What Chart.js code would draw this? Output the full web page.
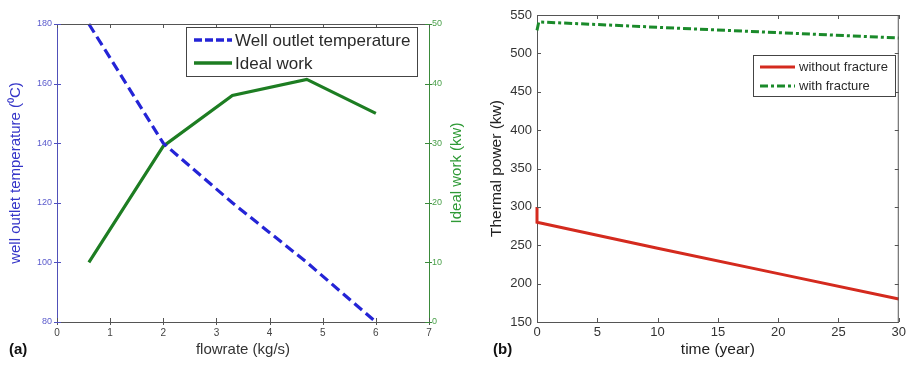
<!DOCTYPE html>
<html>
<head>
<meta charset="utf-8">
<script src="https://cdn.jsdelivr.net/npm/chart.js@4.4.1/dist/chart.umd.min.js"></script>
<style>
  html, body { margin: 0; padding: 0; background: #ffffff; }
  #wrap { position: relative; width: 909px; height: 366px; overflow: hidden; }
  #cA { position: absolute; left: 0; top: 0; }
  #cB { position: absolute; left: 460px; top: 0; }
</style>
</head>
<body>
<div id="wrap">
  <canvas id="cA" width="466" height="366"></canvas>
  <canvas id="cB" width="449" height="366"></canvas>
</div>
<script>
// ---------- (a) data ----------
const flowrate   = [0.6, 2, 3.3, 4.7, 6];
const outletTemp = [180, 140, 120, 100, 80];
const idealWork  = [10, 29.5, 38, 40.7, 35];
const flowTicks  = [0, 1, 2, 3, 4, 5, 6, 7];
const tempTicks  = [80, 100, 120, 140, 160, 180];
const workTicks  = [0, 10, 20, 30, 40, 50];

// ---------- (b) data ----------
const timeNoFrac  = [0, 0, 10, 20, 30];
const powerNoFrac = [300, 280, 246, 213, 180];
const timeFrac    = [0, 0.15, 10, 20, 30];
const powerFrac   = [530, 541, 534, 527, 520];
const timeTicks   = [0, 5, 10, 15, 20, 25, 30];
const powerTicks  = [150, 200, 250, 300, 350, 400, 450, 500, 550];

const FONT = "'Liberation Sans', Arial, Helvetica, sans-serif";
const BLUE = '#2424d6';
const GREEN = '#1d7d22';
const RED = '#d42a1e';
const GREEN2 = '#1a8a2a';

function setTicks(arr) {
  return function (scale) { scale.ticks = arr.map(v => ({ value: v })); };
}
function pts(xs, ys) { return xs.map((x, i) => ({ x: x, y: ys[i] })); }

function line(ctx, x1, y1, x2, y2) {
  ctx.beginPath(); ctx.moveTo(x1, y1); ctx.lineTo(x2, y2); ctx.stroke();
}

// ---------- Chart (a) ----------
const pluginA = {
  id: 'decorA',
  afterDraw(chart) {
    const ctx = chart.ctx, a = chart.chartArea;
    const sx = chart.scales.x, sy = chart.scales.y, sy1 = chart.scales.y1;
    ctx.save();
    ctx.strokeStyle = '#555'; ctx.lineWidth = 1;
    line(ctx, a.left, a.top + 0.5, a.right, a.top + 0.5);
    sx.ticks.forEach(t => {
      const px = Math.round(sx.getPixelForValue(t.value)) + 0.5;
      line(ctx, px, a.bottom - 4, px, a.bottom + 3);
      line(ctx, px, a.top, px, a.top + 4);
    });
    ctx.strokeStyle = '#5050c0';
    sy.ticks.forEach(t => {
      const py = Math.round(sy.getPixelForValue(t.value)) + 0.5;
      line(ctx, a.left - 3, py, a.left + 4, py);
    });
    ctx.strokeStyle = '#3a8a3a';
    sy1.ticks.forEach(t => {
      const py = Math.round(sy1.getPixelForValue(t.value)) + 0.5;
      line(ctx, a.right - 4, py, a.right + 3, py);
    });
    // right axis title (reads bottom to top)
    ctx.save();
    ctx.translate(457, (a.top + a.bottom) / 2);
    ctx.rotate(-Math.PI / 2);
    ctx.fillStyle = '#2f9a36';
    ctx.font = '15px ' + FONT;
    ctx.textAlign = 'center'; ctx.textBaseline = 'middle';
    ctx.fillText('Ideal work (kw)', 0, 0);
    ctx.restore();
    // legend
    ctx.fillStyle = '#ffffff';
    ctx.fillRect(186, 27, 231, 49);
    ctx.strokeStyle = '#444'; ctx.lineWidth = 1;
    ctx.strokeRect(186.5, 27.5, 231, 49);
    ctx.lineWidth = 3.5;
    ctx.strokeStyle = BLUE; ctx.setLineDash([8, 3]);
    line(ctx, 194, 40, 232, 40);
    ctx.setLineDash([]);
    ctx.strokeStyle = GREEN;
    line(ctx, 194, 63, 232, 63);
    ctx.fillStyle = '#2a2a2a';
    ctx.font = '17px ' + FONT;
    ctx.textAlign = 'left'; ctx.textBaseline = 'middle';
    ctx.fillText('Well outlet temperature', 235, 41);
    ctx.fillText('Ideal work', 235, 64);
    ctx.font = 'bold 15px ' + FONT;
    ctx.fillStyle = '#111';
    ctx.fillText('(a)', 9, 350);
    ctx.restore();
  }
};

new Chart(document.getElementById('cA'), {
  type: 'line',
  data: {
    datasets: [
      {
        label: 'Well outlet temperature',
        data: pts(flowrate, outletTemp),
        yAxisID: 'y',
        borderColor: BLUE, borderWidth: 3.2, borderDash: [10, 5],
        pointRadius: 0, tension: 0, fill: false, clip: 3
      },
      {
        label: 'Ideal work',
        data: pts(flowrate, idealWork),
        yAxisID: 'y1',
        borderColor: GREEN, borderWidth: 3.2,
        pointRadius: 0, tension: 0, fill: false, clip: 3
      }
    ]
  },
  options: {
    responsive: false, animation: false, devicePixelRatio: 1,
    layout: { padding: { top: 24, left: 0, right: 0, bottom: 0 }, autoPadding: false },
    plugins: { legend: { display: false }, tooltip: { enabled: false } },
    scales: {
      x: {
        type: 'linear', min: 0, max: 7,
        afterBuildTicks: setTicks(flowTicks),
        afterFit: s => { s.height = 44; },
        grid: { display: false, drawTicks: false },
        border: { display: true, color: '#555', width: 1 },
        ticks: { color: '#444', font: { family: FONT, size: 10 }, padding: 5, maxRotation: 0 },
        title: { display: true, text: 'flowrate (kg/s)', color: '#333', font: { family: FONT, size: 15 }, padding: { top: 0, bottom: 7 } }
      },
      y: {
        type: 'linear', position: 'left', min: 80, max: 180,
        afterBuildTicks: setTicks(tempTicks),
        afterFit: s => { s.width = 57; },
        grid: { display: false, drawTicks: false },
        border: { display: true, color: '#5050b8', width: 1 },
        ticks: { color: '#5a5acc', font: { family: FONT, size: 9 }, padding: 5 },
        title: { display: true, text: 'well outlet temperature (⁰C)', color: '#3535c8', font: { family: FONT, size: 15 }, padding: { top: 7, bottom: 0 } }
      },
      y1: {
        type: 'linear', position: 'right', min: 0, max: 50,
        afterBuildTicks: setTicks(workTicks),
        afterFit: s => { s.width = 37; },
        grid: { display: false, drawTicks: false },
        border: { display: true, color: '#3a8a3a', width: 1 },
        ticks: { color: '#4aa04a', font: { family: FONT, size: 9 }, padding: 3 },
        title: { display: false }
      }
    }
  },
  plugins: [pluginA]
});

// ---------- Chart (b) ----------
const pluginB = {
  id: 'decorB',
  afterDraw(chart) {
    const ctx = chart.ctx, a = chart.chartArea;
    const sx = chart.scales.x, sy = chart.scales.y;
    ctx.save();
    ctx.strokeStyle = '#555'; ctx.lineWidth = 1;
    line(ctx, a.left, a.top + 0.5, a.right, a.top + 0.5);
    line(ctx, a.right - 0.5, a.top, a.right - 0.5, a.bottom);
    sx.ticks.forEach(t => {
      const px = Math.round(sx.getPixelForValue(t.value)) + 0.5;
      line(ctx, px, a.bottom, px, a.bottom - 4);
      line(ctx, px, a.top, px, a.top + 4);
    });
    sy.ticks.forEach(t => {
      const py = Math.round(sy.getPixelForValue(t.value)) + 0.5;
      line(ctx, a.left, py, a.left + 4, py);
      line(ctx, a.right, py, a.right - 4, py);
    });
    ctx.fillStyle = '#ffffff';
    ctx.fillRect(293, 55, 142, 41);
    ctx.strokeStyle = '#444'; ctx.lineWidth = 1;
    ctx.strokeRect(293.5, 55.5, 142, 41);
    ctx.lineWidth = 3;
    ctx.strokeStyle = RED;
    line(ctx, 300, 67, 335, 67);
    ctx.strokeStyle = GREEN2; ctx.setLineDash([8, 3, 3, 3]);
    line(ctx, 300, 86, 335, 86);
    ctx.setLineDash([]);
    ctx.fillStyle = '#2a2a2a';
    ctx.font = '13px ' + FONT;
    ctx.textAlign = 'left'; ctx.textBaseline = 'middle';
    ctx.fillText('without fracture', 339, 67);
    ctx.fillText('with fracture', 339, 86);
    ctx.font = 'bold 15px ' + FONT;
    ctx.fillStyle = '#111';
    ctx.fillText('(b)', 33, 350);
    ctx.restore();
  }
};

new Chart(document.getElementById('cB'), {
  type: 'line',
  data: {
    datasets: [
      {
        label: 'without fracture',
        data: pts(timeNoFrac, powerNoFrac),
        borderColor: RED, borderWidth: 3,
        pointRadius: 0, tension: 0, fill: false, clip: 3
      },
      {
        label: 'with fracture',
        data: pts(timeFrac, powerFrac),
        borderColor: GREEN2, borderWidth: 3, borderDash: [8, 3, 3, 3],
        pointRadius: 0, tension: 0, fill: false, clip: 3
      }
    ]
  },
  options: {
    responsive: false, animation: false, devicePixelRatio: 1,
    layout: { padding: { top: 15, left: 0, right: 9, bottom: 0 }, autoPadding: false },
    plugins: { legend: { display: false }, tooltip: { enabled: false } },
    scales: {
      x: {
        type: 'linear', min: 0, max: 30,
        afterBuildTicks: setTicks(timeTicks),
        afterFit: s => { s.height = 44; },
        grid: { display: false, drawTicks: false },
        border: { display: true, color: '#555', width: 1 },
        ticks: { color: '#333', font: { family: FONT, size: 13 }, padding: 3, maxRotation: 0 },
        title: { display: true, text: 'time (year)', color: '#222', font: { family: FONT, size: 15.5 }, padding: { top: 0, bottom: 7 } }
      },
      y: {
        type: 'linear', position: 'left', min: 150, max: 550,
        afterBuildTicks: setTicks(powerTicks),
        afterFit: s => { s.width = 77; },
        grid: { display: false, drawTicks: false },
        border: { display: true, color: '#555', width: 1 },
        ticks: { color: '#333', font: { family: FONT, size: 13 }, padding: 5 },
        title: { display: true, text: 'Thermal power (kw)', color: '#222', font: { family: FONT, size: 15.5 }, padding: { top: 27, bottom: 0 } }
      }
    }
  },
  plugins: [pluginB]
});
</script>
</body>
</html>
